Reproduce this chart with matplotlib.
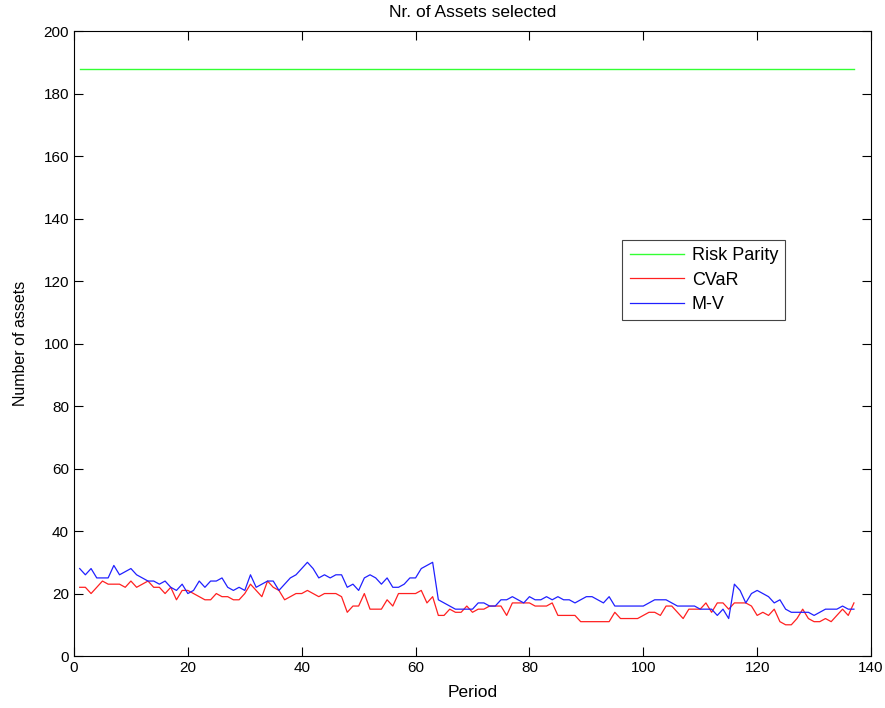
import numpy as np
import matplotlib
matplotlib.use("Agg")
import matplotlib.pyplot as plt

plt.rcParams['font.family'] = ['Liberation Sans', 'DejaVu Sans']

periods = np.arange(1, 138)

risk_parity = [188] * 137

cvar = [
    22, 22, 20, 22, 24, 23, 23, 23, 22, 24, 22, 23, 24, 22, 22, 20, 22, 18, 21, 21,
    20, 19, 18, 18, 20, 19, 19, 18, 18, 20, 23, 21, 19, 24, 22, 21, 18, 19, 20, 20,
    21, 20, 19, 20, 20, 20, 19, 14, 16, 16, 20, 15, 15, 15, 18, 16, 20, 20, 20, 20,
    21, 17, 19, 13, 13, 15, 14, 14, 16, 14, 15, 15, 16, 16, 16, 13, 17, 17, 17, 17,
    16, 16, 16, 17, 13, 13, 13, 13, 11, 11, 11, 11, 11, 11, 14, 12, 12, 12, 12, 13,
    14, 14, 13, 16, 16, 14, 12, 15, 15, 15, 17, 14, 17, 17, 15, 17, 17, 17, 16, 13,
    14, 13, 15, 11, 10, 10, 12, 15, 12, 11, 11, 12, 11, 13, 15, 13, 17,
]

mv = [
    28, 26, 28, 25, 25, 25, 29, 26, 27, 28, 26, 25, 24, 24, 23, 24, 22, 21, 23, 20,
    21, 24, 22, 24, 24, 25, 22, 21, 22, 21, 26, 22, 23, 24, 24, 21, 23, 25, 26, 28,
    30, 28, 25, 26, 25, 26, 26, 22, 23, 21, 25, 26, 25, 23, 25, 22, 22, 23, 25, 25,
    28, 29, 30, 18, 17, 16, 15, 15, 15, 15, 17, 17, 16, 16, 18, 18, 19, 18, 17, 19,
    18, 18, 19, 18, 19, 18, 18, 17, 18, 19, 19, 18, 17, 19, 16, 16, 16, 16, 16, 16,
    17, 18, 18, 18, 17, 16, 16, 16, 16, 15, 15, 15, 13, 15, 12, 23, 21, 17, 20, 21,
    20, 19, 17, 18, 15, 14, 14, 14, 14, 13, 14, 15, 15, 15, 16, 15, 15,
]

fig = plt.figure(figsize=(8.85, 7.08), dpi=100)
ax = fig.add_axes([0.0836, 0.0734, 0.9006, 0.8826])

ax.plot(periods, risk_parity, color='#33ff33', lw=1.0, label='Risk Parity')
ax.plot(periods, cvar, color='#ff2020', lw=0.9, label='CVaR')
ax.plot(periods, mv, color='#2020ff', lw=0.9, label='M-V')

ax.set_xlim(0, 140)
ax.set_ylim(0, 200)
ax.set_xticks(np.arange(0, 141, 20))
ax.set_yticks(np.arange(0, 201, 20))
ax.tick_params(direction='in', top=True, right=True, labelsize=11, length=6.5)
for s in ax.spines.values():
    s.set_linewidth(0.8)

ax.set_title('Nr. of Assets selected', fontsize=12.5, pad=10)
ax.set_xlabel('Period', fontsize=12.5, labelpad=7)
ax.set_ylabel('Number of assets', fontsize=11.5, labelpad=11)

leg = ax.legend(loc='upper left', bbox_to_anchor=(0.688, 0.666), fontsize=13,
                fancybox=False, edgecolor='#444444', framealpha=1,
                borderaxespad=0, handlelength=3.0, handletextpad=0.45,
                borderpad=0.4, labelspacing=0.42)
leg.get_frame().set_linewidth(0.8)

fig.savefig('out.png', dpi=100)
